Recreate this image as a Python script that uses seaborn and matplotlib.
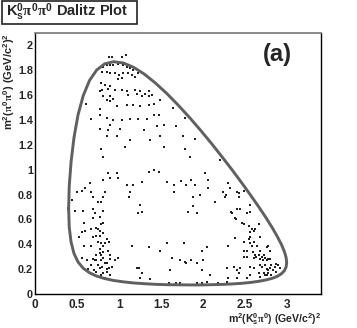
import numpy as np
import pandas as pd
import matplotlib
matplotlib.use("Agg")
import matplotlib.pyplot as plt
from matplotlib.patches import Rectangle
from matplotlib.ticker import MultipleLocator, FuncFormatter
import seaborn as sns

# ---- data -------------------------------------------------------------
# kinematic boundary : m2(Ks pi0) and m2(pi0 pi0)
bound_s = [0.400, 0.407, 0.429, 0.464, 0.512, 0.574, 0.648, 0.733, 0.829, 0.934,
           1.048, 1.169, 1.296, 1.427, 1.561, 1.696, 1.832, 1.966, 2.097, 2.223,
           2.344, 2.458, 2.563, 2.659, 2.745, 2.819, 2.880, 2.929, 2.964, 2.985, 2.992]
bound_up = [0.689, 0.869, 1.064, 1.261, 1.443, 1.597, 1.718, 1.802, 1.852, 1.869,
            1.859, 1.825, 1.771, 1.700, 1.617, 1.524, 1.424, 1.319, 1.212, 1.104,
            0.998, 0.894, 0.795, 0.702, 0.615, 0.535, 0.463, 0.399, 0.343, 0.294, 0.252]
bound_lo = [0.689, 0.537, 0.417, 0.325, 0.257, 0.207, 0.171, 0.144, 0.124, 0.109,
            0.098, 0.089, 0.083, 0.078, 0.075, 0.074, 0.073, 0.073, 0.075, 0.077,
            0.081, 0.086, 0.093, 0.102, 0.113, 0.126, 0.142, 0.163, 0.187, 0.217, 0.252]

# events : m2(Ks pi0)
m2_kpi = [
    0.88, 0.92, 1.03, 1.08, 0.81, 0.85, 0.89, 0.93, 0.99, 1.05, 1.09, 1.13,
    1.17, 1.22, 0.80, 0.85, 0.89, 0.95, 1.00, 1.05, 1.11, 1.15, 1.19, 0.99,
    1.03, 0.79, 0.83, 0.89, 0.80, 0.87, 0.77, 0.95, 1.03, 1.09, 1.19, 1.25,
    1.31, 1.35, 1.39, 0.81, 0.89, 0.85, 0.93, 1.11, 1.21, 1.27, 1.35, 0.61,
    0.77, 0.89, 0.97, 1.09, 1.17, 1.25, 1.35, 1.41, 1.49, 1.64, 1.78, 0.67,
    0.77, 0.85, 0.89, 0.93, 1.03, 1.13, 1.23, 1.33, 1.41, 1.47, 0.87, 1.01,
    1.29, 1.45, 1.53, 1.68, 0.77, 0.85, 0.97, 1.13, 1.37, 1.49, 1.76, 1.90,
    0.79, 1.07, 1.53, 1.78, 0.81, 1.84, 0.87, 0.97, 1.35, 1.41, 1.47, 1.86,
    2.02, 0.89, 0.99, 2.20,
    0.60, 0.65, 0.81, 1.09, 1.16, 1.27, 1.57, 1.65, 1.74, 1.80, 1.90, 2.06,
    0.50, 0.56, 0.67, 0.69, 0.81, 0.83, 1.13, 1.12, 1.65, 1.88, 2.06, 0.44,
    0.75, 0.79, 0.48, 0.57, 0.69, 0.71, 0.81, 1.25, 1.27, 1.22, 1.82, 1.88,
    1.92, 0.69, 0.77, 0.79, 0.81, 0.58, 0.73, 0.75, 0.77, 0.67, 0.56, 0.60,
    0.77, 0.73, 0.81, 0.69, 0.52, 0.58, 0.67, 0.75, 0.79, 0.81, 0.83, 0.85,
    0.88, 0.77, 0.81, 0.77, 0.79, 0.73, 0.87, 0.89, 1.15, 1.36, 1.49, 1.57,
    1.77, 1.98, 2.04, 0.56, 0.62, 0.69, 0.71, 0.73, 0.67, 0.75, 0.79, 0.81,
    0.83, 0.85, 0.89, 0.95, 0.99, 0.77, 0.80, 0.85, 0.88, 0.91, 0.63, 0.70,
    1.63, 1.72, 1.78, 1.80, 1.85, 1.92, 2.00, 1.21, 1.24, 1.60, 0.73, 0.81,
    0.85, 0.79, 0.83, 0.89, 1.25, 1.27, 1.37, 1.59, 1.68, 1.72, 1.92, 1.98,
    2.04,
    1.96, 2.14, 2.24, 2.26, 2.27, 2.30, 2.32, 2.40, 2.42, 2.43, 2.48, 2.33,
    2.34, 2.40, 2.44, 2.52, 2.55, 2.56, 2.38, 2.39, 2.46, 2.48, 2.54, 2.56,
    2.58, 2.60, 2.62, 2.66, 2.67, 2.38, 2.56, 2.54, 2.60, 2.55, 2.48, 2.30,
    2.58, 2.64, 2.68, 2.76, 2.77, 2.79, 2.48, 2.52, 2.59, 2.62, 2.66, 2.70,
    2.72, 2.74, 2.76, 2.79, 2.48, 2.52, 2.60, 2.63, 2.67, 2.71, 2.77, 2.28,
    2.36, 2.44, 2.56, 2.60, 2.68, 2.70, 2.74, 2.76, 2.77, 2.79, 2.81, 2.83,
    2.85, 2.87, 2.89, 2.91, 2.40, 2.42, 2.56, 2.66, 2.68, 2.72, 2.74, 2.76,
    2.77, 2.81, 2.87, 1.99, 2.08, 2.30, 2.40, 2.52, 2.18, 2.28,
]
# events : m2(pi0 pi0)
m2_pipi = [
    1.91, 1.91, 1.91, 1.92, 1.83, 1.84, 1.84, 1.84, 1.85, 1.84, 1.83, 1.82,
    1.80, 1.78, 1.79, 1.79, 1.78, 1.78, 1.76, 1.78, 1.78, 1.76, 1.75, 1.73,
    1.74, 1.70, 1.68, 1.67, 1.64, 1.65, 1.63, 1.64, 1.64, 1.63, 1.64, 1.63,
    1.61, 1.63, 1.60, 1.59, 1.59, 1.56, 1.57, 1.60, 1.61, 1.59, 1.59, 1.53,
    1.49, 1.55, 1.51, 1.52, 1.52, 1.51, 1.52, 1.53, 1.56, 1.50, 1.42, 1.41,
    1.44, 1.42, 1.36, 1.40, 1.40, 1.41, 1.41, 1.41, 1.44, 1.44, 1.32, 1.33,
    1.32, 1.35, 1.36, 1.35, 1.33, 1.27, 1.27, 1.24, 1.24, 1.27, 1.27, 1.25,
    1.17, 1.18, 1.18, 1.17, 1.10, 1.10, 0.97, 0.97, 0.98, 1.00, 0.98, 0.92,
    0.97, 0.93, 0.93, 1.08,
    0.85, 0.89, 0.92, 0.88, 0.88, 0.90, 0.90, 0.88, 0.91, 0.88, 0.88, 0.92,
    0.82, 0.83, 0.82, 0.78, 0.78, 0.82, 0.82, 0.78, 0.82, 0.78, 0.85, 0.76,
    0.74, 0.74, 0.67, 0.67, 0.68, 0.65, 0.67, 0.72, 0.66, 0.65, 0.66, 0.71,
    0.65, 0.61, 0.62, 0.56, 0.57, 0.57, 0.53, 0.52, 0.51, 0.52, 0.50, 0.51,
    0.47, 0.47, 0.49, 0.46, 0.46, 0.39, 0.39, 0.42, 0.41, 0.39, 0.41, 0.44,
    0.42, 0.36, 0.34, 0.33, 0.31, 0.31, 0.35, 0.31, 0.39, 0.38, 0.35, 0.41,
    0.41, 0.35, 0.38, 0.29, 0.27, 0.28, 0.27, 0.27, 0.23, 0.23, 0.27, 0.29,
    0.25, 0.25, 0.28, 0.27, 0.29, 0.21, 0.22, 0.20, 0.21, 0.22, 0.20, 0.19,
    0.29, 0.27, 0.26, 0.25, 0.27, 0.25, 0.27, 0.21, 0.21, 0.19, 0.18, 0.17,
    0.18, 0.15, 0.13, 0.15, 0.13, 0.17, 0.12, 0.09, 0.09, 0.09, 0.09, 0.09,
    0.10,
    0.80, 0.74, 0.82, 0.78, 0.80, 0.89, 0.85, 0.82, 0.78, 0.81, 0.83, 0.66,
    0.65, 0.68, 0.68, 0.65, 0.66, 0.72, 0.61, 0.60, 0.57, 0.56, 0.55, 0.50,
    0.52, 0.51, 0.52, 0.56, 0.46, 0.45, 0.46, 0.44, 0.42, 0.41, 0.42, 0.39,
    0.39, 0.39, 0.35, 0.38, 0.39, 0.35, 0.35, 0.35, 0.34, 0.31, 0.31, 0.30,
    0.31, 0.29, 0.27, 0.28, 0.30, 0.30, 0.29, 0.30, 0.28, 0.27, 0.28, 0.21,
    0.22, 0.21, 0.22, 0.21, 0.23, 0.22, 0.23, 0.20, 0.19, 0.21, 0.23, 0.19,
    0.22, 0.24, 0.23, 0.21, 0.19, 0.17, 0.15, 0.17, 0.14, 0.17, 0.15, 0.15,
    0.17, 0.15, 0.18, 0.19, 0.15, 0.13, 0.13, 0.13, 0.09, 0.10,
]

x_ticks = [0, 0.5, 1, 1.5, 2, 2.5, 3]
y_ticks = [0, 0.2, 0.4, 0.6, 0.8, 1, 1.2, 1.4, 1.6, 1.8, 2]

title_txt = r"K$_\mathbf{s}^\mathbf{0}\pi^\mathbf{0}\pi^\mathbf{0}$ Dalitz Plot"
xlabel_txt = r"m$^\mathbf{2}$(K$_\mathbf{s}^\mathbf{0}\pi^\mathbf{0}$) (GeV/c$^\mathbf{2}$)$^\mathbf{2}$"
ylabel_txt = r"m$^\mathbf{2}$($\pi^\mathbf{0}\pi^\mathbf{0}$) (GeV/c$^\mathbf{2}$)$^\mathbf{2}$"
panel_txt = "(a)"

# ---- style ------------------------------------------------------------
sns.set_style("white")
plt.rcParams["font.family"] = ["Liberation Sans", "DejaVu Sans"]
plt.rcParams["font.weight"] = "bold"
plt.rcParams["mathtext.fontset"] = "custom"
plt.rcParams["mathtext.rm"] = "Liberation Sans:bold"
plt.rcParams["mathtext.bf"] = "Liberation Sans:bold"
plt.rcParams["mathtext.it"] = "Liberation Serif"
plt.rcParams["mathtext.sf"] = "Liberation Sans:bold"

fig = plt.figure(figsize=(3.57, 3.28), dpi=100)
ax = fig.add_axes([35 / 357, 34 / 328, 286 / 357, 261 / 328])

# boundary
bdf = pd.DataFrame({
    "s": bound_s + bound_s[::-1],
    "m": bound_up + bound_lo[::-1],
})
sns.lineplot(data=bdf, x="s", y="m", sort=False, estimator=None,
             color="#606060", lw=2.1, ax=ax)

# events
edf = pd.DataFrame({"kpi": m2_kpi, "pipi": m2_pipi})
sns.scatterplot(data=edf, x="kpi", y="pipi", s=1.1, marker="s",
                color="#202020", linewidth=0, ax=ax)

ax.set_xlim(0, 3.4)
ax.set_ylim(0, 2.1)
ax.set_xticks(x_ticks)
ax.set_yticks(y_ticks)
ax.xaxis.set_minor_locator(MultipleLocator(0.1))
ax.yaxis.set_minor_locator(MultipleLocator(0.04))
fmt = FuncFormatter(lambda v, p: f"{v:g}")
ax.xaxis.set_major_formatter(fmt)
ax.yaxis.set_major_formatter(fmt)
ax.tick_params(which="both", direction="in", top=False, right=False,
               color="black", width=1)
ax.tick_params(which="major", length=6)
ax.tick_params(which="minor", length=3)
ax.tick_params(axis="x", which="major", pad=3.5, labelsize=8.5)
ax.tick_params(axis="y", which="major", pad=1.5, labelsize=7.8)
for lab in ax.get_xticklabels() + ax.get_yticklabels():
    lab.set_fontweight("bold")

for side in ["left", "bottom", "right"]:
    ax.spines[side].set_color("black")
    ax.spines[side].set_linewidth(1)
ax.spines["top"].set_color("#777777")
ax.spines["top"].set_linewidth(1.2)

ax.set_xlabel(xlabel_txt, fontsize=7.6, fontweight="bold", loc="right")
ax.xaxis.set_label_coords(1.0, -0.068)
ax.set_ylabel(ylabel_txt, fontsize=8, fontweight="bold", loc="top")
ax.yaxis.set_label_coords(-0.062, 1.0)

ax.text((263 - 35) / 286, (294 - 54) / 261, panel_txt,
        transform=ax.transAxes, fontsize=17, fontweight="bold",
        ha="left", va="center")

# title box
fig.patches.append(Rectangle((2 / 357, (328 - 24) / 328), 135 / 357, 23 / 328,
                             transform=fig.transFigure, facecolor="white",
                             edgecolor="#222222", lw=1.2))
fig.text(6 / 357, (328 - 12.5) / 328, title_txt, fontsize=10.5,
         fontweight="bold", ha="left", va="center")

fig.savefig("out.png", dpi=100)
